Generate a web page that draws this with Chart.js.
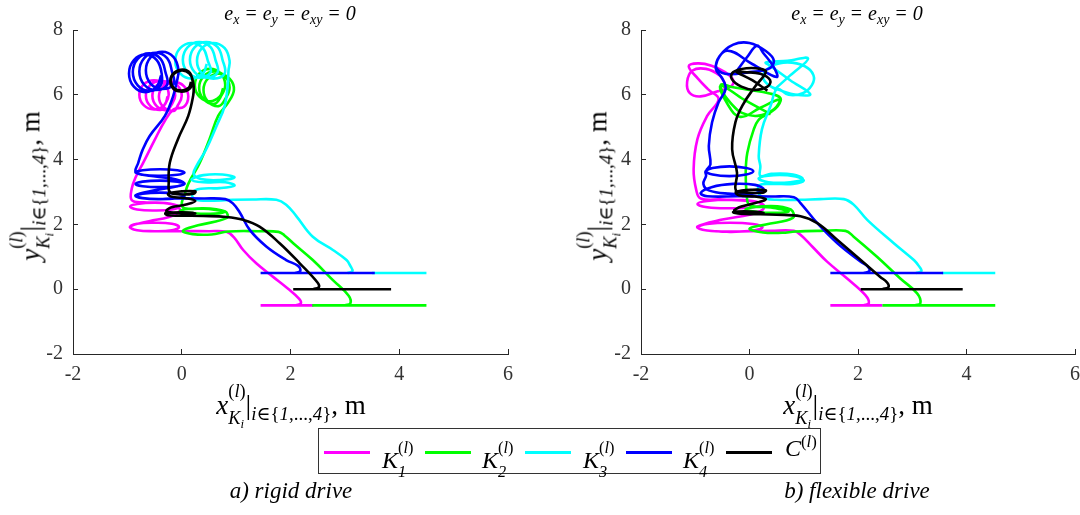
<!DOCTYPE html>
<html><head><meta charset="utf-8">
<script src="https://cdn.jsdelivr.net/npm/chart.js@4.4.1/dist/chart.umd.min.js"></script>
<style>
html,body{margin:0;padding:0;background:#fff;width:1080px;height:515px;overflow:hidden;position:relative;font-family:"Liberation Serif","DejaVu Serif",serif;color:#000;}
.cv{position:absolute;top:0;}
.t{position:absolute;white-space:nowrap;line-height:1;}
i{font-style:italic;}
sub{font-size:0.7em;vertical-align:-0.3em;line-height:0;}
sup{font-size:0.7em;vertical-align:0.55em;line-height:0;}
.ss{display:inline-block;vertical-align:-0.5em;font-size:0.68em;line-height:1.45;text-align:left;}
.ss span{display:block;}
.eq{margin:0 0.3em;}
.ttl{font-size:20px;transform:translateX(-50%);top:3px;}
.xt{font-size:27px;transform:translateX(-50%);top:378px;}
.yt{font-size:27px;transform:translate(-50%,-50%) rotate(-90deg);top:186px;}
.leg{position:absolute;left:318px;top:428px;width:503px;height:46px;border:1px solid #333;box-sizing:border-box;background:#fff;}
.ln{position:absolute;top:22px;width:46px;height:3px;}
.lb{position:absolute;top:7px;font-size:24px;line-height:1;white-space:nowrap;}
.cap{font-size:23px;font-style:italic;transform:translateX(-50%);top:479px;}
</style></head><body>
<div class="cv" style="left:0px"><canvas id="c1" width="520" height="400"></canvas></div>
<div class="cv" style="left:560px"><canvas id="c2" width="530" height="400"></canvas></div>

<div class="t ttl" style="left:290px"><i>e</i><sub><i>x</i></sub><span class="eq">=</span><i>e</i><sub><i>y</i></sub><span class="eq">=</span><i>e</i><sub><i>xy</i></sub><span class="eq">=</span><i>0</i></div>
<div class="t ttl" style="left:857px"><i>e</i><sub><i>x</i></sub><span class="eq">=</span><i>e</i><sub><i>y</i></sub><span class="eq">=</span><i>e</i><sub><i>xy</i></sub><span class="eq">=</span><i>0</i></div>

<div class="t xt" style="left:291px"><i>x</i><span class="ss"><span>(<i>l</i>)</span><span><i>K</i><sub><i>i</i></sub></span></span><span style="font-size:1.05em">|</span><sub><i>i</i>∈{<i>1</i>,...,<i>4</i>}</sub>, m</div>
<div class="t xt" style="left:858px"><i>x</i><span class="ss"><span>(<i>l</i>)</span><span><i>K</i><sub><i>i</i></sub></span></span><span style="font-size:1.05em">|</span><sub><i>i</i>∈{<i>1</i>,...,<i>4</i>}</sub>, m</div>

<div class="t yt" style="left:30px"><i>y</i><span class="ss"><span>(<i>l</i>)</span><span><i>K</i><sub><i>i</i></sub></span></span><span style="font-size:1.05em">|</span><sub><i>i</i>∈{<i>1</i>,...,<i>4</i>}</sub>, m</div>
<div class="t yt" style="left:597px"><i>y</i><span class="ss"><span>(<i>l</i>)</span><span><i>K</i><sub><i>i</i></sub></span></span><span style="font-size:1.05em">|</span><sub><i>i</i>∈{<i>1</i>,...,<i>4</i>}</sub>, m</div>

<div class="leg" id="leg"></div>

<div class="t cap" style="left:291px">a) rigid drive</div>
<div class="t cap" style="left:857px">b) flexible drive</div>

<script>
const xTicks = [-2, 0, 2, 4, 6];
const yTicks = [-2, 0, 2, 4, 6, 8];
const seriesNames = ['K1', 'K2', 'K3', 'K4', 'C'];
const seriesColors = ['#ff00ff', '#00ff00', '#00ffff', '#0000ff', '#000000'];

const rigidK1 = [
[1.45,-0.5],[2.42,-0.5],null,
[2.1,-0.5],[2.19,-0.44],[2.16,-0.3],[1.95,0.02],[1.68,0.38],[1.37,0.8],[1.13,1.21],[0.96,1.6],[0.82,1.77],[0.5,1.79],[0.0,1.79],
[-0.5,1.79],[-0.82,1.82],[-0.95,1.92],[-0.82,2.02],[-0.5,2.05],[-0.18,2.02],[-0.05,1.92],[-0.18,1.82],[-0.5,1.79],[-0.82,1.82],[-0.95,1.93],
[-0.6,2.1],[-0.25,2.22],[-0.05,2.38],
[-0.05,2.52],[-0.2,2.63],[-0.5,2.67],[-0.82,2.63],[-0.95,2.55],[-0.82,2.46],[-0.5,2.43],[-0.18,2.46],[-0.05,2.55],[-0.3,2.66],[-0.7,2.68],[-0.92,2.75],
[-0.92,3.1],[-0.85,3.45],[-0.71,3.9],[-0.5,4.6],[-0.31,5.2],[-0.15,5.55],
[0.04,5.63],[0.12,5.95],[0.04,6.27],[-0.15,6.4],[-0.34,6.27],[-0.42,5.95],[-0.34,5.63],[-0.15,5.5],
[-0.08,5.65],[0.0,5.97],[-0.08,6.29],[-0.27,6.42],[-0.46,6.29],[-0.54,5.97],[-0.46,5.65],[-0.27,5.52],
[-0.2,5.66],[-0.12,5.98],[-0.2,6.3],[-0.39,6.43],[-0.58,6.3],[-0.66,5.98],[-0.58,5.66],[-0.39,5.53],
[-0.32,5.68],[-0.24,6.0],[-0.32,6.32],[-0.51,6.45],[-0.7,6.32],[-0.78,6.0],[-0.7,5.68],[-0.51,5.55],[-0.32,5.68],[-0.26,5.95]
];
const rigidK2 = [
[2.4,-0.5],[4.5,-0.5],null,
[3.0,-0.5],[3.1,-0.44],[3.07,-0.2],[2.78,0.28],[2.41,0.9],[2.05,1.42],[1.89,1.66],[1.78,1.77],[1.4,1.79],[0.85,1.78],
[0.55,1.69],[0.2,1.7],[0.02,1.8],[0.3,1.97],[0.83,2.2],
[0.8,2.4],[0.4,2.5],[-0.03,2.42],[0.35,2.33],[0.78,2.38],[0.5,2.48],[0.05,2.5],
[0.0,2.65],[0.05,2.9],[0.12,3.25],[0.33,3.9],[0.51,4.63],[0.67,5.35],[0.85,5.75],
[0.96,6.15],[0.88,6.5],[0.68,6.65],[0.48,6.5],[0.4,6.15],[0.48,5.8],[0.68,5.65],
[0.8,5.87],[0.88,6.22],[0.8,6.57],[0.6,6.72],[0.4,6.57],[0.32,6.22],[0.4,5.87],[0.6,5.72],
[0.72,5.95],[0.8,6.3],[0.72,6.65],[0.52,6.8],[0.32,6.65],[0.24,6.3],[0.32,5.95],[0.52,5.8],[0.7,5.95],[0.76,6.2]
];
const rigidK3 = [
[3.5,0.5],[4.5,0.5],null,
[3.05,0.5],[3.14,0.56],[3.1,0.72],[3.03,0.9],[2.78,1.21],[2.41,1.62],[2.11,2.25],[1.92,2.61],[1.74,2.76],[1.3,2.77],[0.94,2.76],[0.4,2.73],
[0.22,2.8],[0.2,3.0],[0.35,3.1],[0.7,3.12],[0.97,3.2],[0.8,3.3],[0.4,3.3],[0.18,3.38],[0.4,3.52],[0.75,3.54],[0.97,3.45],[0.7,3.37],[0.35,3.4],[0.22,3.55],
[0.27,3.8],[0.45,4.32],[0.64,5.04],[0.79,5.66],[0.85,6.39],[0.86,6.75],
[0.88,7.05],[0.79,7.44],[0.58,7.6],[0.37,7.44],[0.28,7.05],[0.37,6.66],[0.58,6.5],[0.79,6.66],
[0.75,7.08],[0.66,7.47],[0.45,7.63],[0.24,7.47],[0.15,7.08],[0.24,6.69],[0.45,6.53],[0.66,6.69],
[0.62,7.08],[0.53,7.47],[0.32,7.63],[0.11,7.47],[0.02,7.08],[0.11,6.69],[0.32,6.53],[0.53,6.69],
[0.48,7.05],[0.39,7.44],[0.18,7.6],[-0.03,7.44],[-0.12,7.05],[-0.03,6.66],[0.18,6.5],[0.39,6.66],[0.46,6.95]
];
const rigidK4 = [
[1.45,0.5],[3.55,0.5],null,
[2.08,0.5],[2.18,0.56],[2.14,0.72],[1.92,0.9],[1.56,1.31],[1.25,1.83],[1.07,2.36],[0.94,2.65],[0.8,2.78],[0.4,2.8],[-0.2,2.8],
[-0.4,2.78],[-0.72,2.81],[-0.85,2.88],[-0.72,2.95],[-0.4,2.98],[-0.08,2.95],[0.05,2.88],[-0.08,2.81],[-0.4,2.78],[-0.72,2.81],[-0.85,2.9],
[-0.5,3.05],[-0.1,3.17],[0.05,3.25],[-0.08,3.32],[-0.4,3.35],[-0.72,3.32],[-0.85,3.25],[-0.72,3.18],[-0.4,3.15],[-0.08,3.18],[0.05,3.27],
[-0.2,3.42],[-0.6,3.5],[-0.85,3.6],[-0.72,3.67],[-0.4,3.7],[-0.08,3.67],[0.05,3.6],[-0.08,3.53],[-0.4,3.5],[-0.72,3.53],[-0.85,3.62],
[-0.8,3.9],[-0.72,4.3],[-0.59,4.73],[-0.31,5.35],[-0.16,5.95],[-0.1,6.35],
[-0.06,6.75],[-0.15,7.16],[-0.36,7.33],[-0.57,7.16],[-0.66,6.75],[-0.57,6.34],[-0.36,6.18],[-0.15,6.34],
[-0.18,6.72],[-0.27,7.13],[-0.48,7.3],[-0.69,7.13],[-0.78,6.72],[-0.69,6.31],[-0.48,6.15],[-0.27,6.31],
[-0.3,6.7],[-0.39,7.11],[-0.6,7.28],[-0.81,7.11],[-0.9,6.7],[-0.81,6.29],[-0.6,6.12],[-0.39,6.29],
[-0.37,6.66],[-0.46,7.07],[-0.67,7.24],[-0.88,7.07],[-0.97,6.66],[-0.88,6.25],[-0.67,6.08],[-0.46,6.25],[-0.38,6.6]
];
const rigidC = [
[2.05,0],[3.85,0],null,
[2.42,0],[2.52,0.06],[2.5,0.2],[2.17,0.8],[1.8,1.42],[1.43,1.93],[1.13,2.14],[0.82,2.23],[0.4,2.26],[0.02,2.27],[-0.25,2.28],
[-0.3,2.34],[0.0,2.37],[0.25,2.34],[0.0,2.35],[-0.28,2.4],[-0.2,2.52],[0.1,2.62],[0.25,2.72],[0.1,2.8],[-0.2,2.86],[-0.25,2.95],[0.0,3.02],[0.25,3.02],[0.22,2.95],[-0.05,2.93],[-0.22,3.0],
[-0.24,3.28],[-0.22,3.9],[-0.07,4.63],[0.12,5.35],[0.21,5.97],[0.22,6.25],
[0.2,6.45],[0.15,6.68],[0.02,6.78],[-0.14,6.68],[-0.21,6.45],[-0.16,6.2],[-0.02,6.1],[0.14,6.18],[0.2,6.42],[0.14,6.66],[0.0,6.75],[-0.15,6.64],[-0.2,6.42],[-0.14,6.2],[0.0,6.13],[0.13,6.22],[0.17,6.4]
];

const flexK1 = [
[1.49,-0.5],[2.45,-0.5],null,
[2.1,-0.5],[2.2,-0.43],[2.14,-0.19],[1.8,0.33],[1.43,0.85],[1.16,1.31],[0.94,1.68],[0.82,1.8],[0.4,1.8],[0.0,1.79],
[-0.36,1.77],[-0.78,1.81],[-0.96,1.91],[-0.78,2.01],[-0.36,2.05],[0.06,2.01],[0.24,1.91],[0.06,1.81],[-0.36,1.78],[-0.78,1.81],[-0.96,1.93],
[-0.5,2.15],[0.0,2.3],[0.24,2.45],
[0.26,2.6],[0.06,2.72],[-0.36,2.76],[-0.78,2.72],[-0.96,2.63],[-0.78,2.53],[-0.36,2.5],[0.06,2.53],[0.24,2.62],[0.0,2.72],[-0.5,2.77],[-0.9,2.8],
[-0.98,3.05],[-1.03,3.7],[-0.96,4.63],[-0.78,5.35],[-0.57,5.87],
[-0.75,6.15],[-0.95,6.5],[-1.12,6.88],[-0.95,6.97],[-0.7,6.9],[-0.45,6.7],[-0.3,6.45],[-0.35,6.25],[-0.6,6.1],[-0.9,5.95],[-1.1,6.05],[-1.15,6.4],[-1.05,6.75],[-0.8,6.8],[-0.55,6.6],[-0.45,6.35]
];
const flexK2 = [
[2.45,-0.5],[4.53,-0.5],null,
[3.05,-0.5],[3.15,-0.43],[3.09,-0.13],[2.78,0.33],[2.35,1.0],[1.92,1.62],[1.77,1.8],[1.3,1.8],[0.85,1.78],
[0.6,1.74],[0.25,1.75],[0.0,1.87],[0.3,2.0],[0.8,2.2],[0.76,2.46],[0.4,2.57],[-0.07,2.47],[0.3,2.36],[0.72,2.4],[0.4,2.52],[0.0,2.6],
[-0.05,2.9],[-0.07,3.6],[-0.04,4.21],[0.08,4.94],[0.18,5.25],[0.35,5.42],[0.52,5.65],[0.57,5.9],[0.35,6.05],[0.0,6.15],[-0.35,6.25],[-0.52,6.32],
[-0.5,6.1],[-0.35,5.75],[-0.15,5.45],[0.15,5.35],[0.45,5.55],[0.55,5.85],[0.2,5.6],[-0.17,5.32],[-0.4,5.7],[-0.53,6.28],[-0.1,5.85],[0.39,5.4]
];
const flexK3 = [
[3.55,0.5],[4.53,0.5],null,
[3.07,0.5],[3.17,0.56],[3.12,0.72],[3.03,0.9],[2.66,1.42],[2.17,2.14],[1.92,2.61],[1.74,2.78],[1.3,2.78],[0.94,2.76],[0.5,2.76],[0.3,2.8],
[0.17,2.95],[0.18,3.2],[0.4,3.25],[0.8,3.25],[1.0,3.35],[0.85,3.48],[0.45,3.52],[0.17,3.42],[0.35,3.3],[0.75,3.3],[0.98,3.4],[0.8,3.54],[0.4,3.56],[0.2,3.5],
[0.2,3.8],[0.17,4.11],[0.23,4.94],[0.39,5.66],[0.51,6.18],
[0.72,6.0],[0.98,6.05],[1.15,6.3],[1.18,6.6],[1.02,6.88],[0.7,7.0],[0.4,6.88],[0.25,6.6],[0.35,6.3],[0.6,6.12],[0.85,6.0],[1.12,6.02],
[0.75,6.45],[0.38,6.9],[0.3,7.0],[0.7,7.05],[1.08,7.12],[0.75,6.6],[0.45,6.15]
];
const flexK4 = [
[1.49,0.5],[3.57,0.5],null,
[2.1,0.5],[2.21,0.56],[2.18,0.7],[2.05,0.85],[1.62,1.42],[1.25,2.04],[0.94,2.66],[0.82,2.84],[0.4,2.86],[-0.2,2.87],[-0.78,2.87],
[-0.9,2.97],[-0.7,3.15],[-0.3,3.25],[0.1,3.22],[0.26,3.08],[0.05,2.95],[-0.4,2.95],[-0.75,3.05],[-0.85,3.25],[-0.8,3.5],
[-0.81,3.64],[-0.68,3.74],[-0.37,3.79],[-0.06,3.74],[0.07,3.64],[-0.06,3.54],[-0.37,3.49],[-0.68,3.54],[-0.8,3.65],
[-0.72,3.85],[-0.75,4.42],[-0.69,5.15],[-0.57,5.77],[-0.44,6.18],
[-0.5,6.5],[-0.62,6.8],[-0.55,7.2],[-0.3,7.55],[0.0,7.6],[0.3,7.35],[0.45,7.05],[0.35,6.8],[0.0,6.7],[-0.45,6.65],[-0.62,6.9],
[-0.41,7.36],[0.05,6.95],[0.5,6.55],[0.45,6.85],[0.25,7.3],[0.14,7.52],[-0.05,7.15],[-0.23,6.75]
];
const flexC = [
[2.05,0],[3.93,0],null,
[2.45,0],[2.56,0.06],[2.54,0.2],[2.41,0.38],[2.05,0.9],[1.62,1.52],[1.25,2.04],[0.94,2.25],[0.5,2.3],[-0.17,2.33],
[-0.3,2.38],[0.0,2.4],[0.26,2.36],[0.0,2.37],[-0.28,2.42],[-0.15,2.55],[0.15,2.68],[0.3,2.78],[0.1,2.86],[-0.2,2.9],[-0.25,3.0],[0.05,3.07],[0.3,3.05],[0.25,2.98],[-0.05,2.98],[-0.25,3.05],
[-0.23,3.59],[-0.32,4.32],[-0.26,5.15],[-0.12,5.7],[0.1,6.25],[0.3,6.7],
[0.2,6.8],[-0.05,6.82],[-0.3,6.7],[-0.33,6.5],[-0.15,6.25],[0.1,6.15],[0.33,6.25],[0.38,6.45],[0.2,6.65],[-0.1,6.7],[-0.25,6.72],[0.05,6.45],[0.33,6.13]
];

const rigidSeries = [rigidK1, rigidK2, rigidK3, rigidK4, rigidC];
const flexSeries = [flexK1, flexK2, flexK3, flexK4, flexC];

function toXY(arr){ return arr.map(p => p ? {x:p[0], y:p[1]} : {x:NaN, y:NaN}); }

const FONT = {family:'"Liberation Serif", serif', size:20};
function makeChart(id, series, axisW, padR){
  const datasets = series.map((s,i) => ({
    label: seriesNames[i],
    data: toXY(s),
    showLine: true,
    borderColor: seriesColors[i],
    borderWidth: 2.6,
    pointRadius: 0,
    tension: 0.4,
    fill: false,
    order: 5 - i
  }));
  return new Chart(document.getElementById(id), {
    type: 'scatter',
    data: {datasets},
    options: {
      responsive: false, animation: false, events: [],
      layout: {padding: {top: 30, right: padR, left: 0, bottom: 0}},
      plugins: {legend: {display: false}, tooltip: {enabled: false}},
      scales: {
        x: {
          type: 'linear', min: -2, max: 6,
          afterBuildTicks: s => { s.ticks = xTicks.map(v => ({value: v})); },
          afterFit: s => { s.height = 46; s.paddingLeft = 0; s.paddingRight = 0; },
          grid: {drawOnChartArea: false, tickLength: -5, color: '#262626', lineWidth: 1},
          border: {display: true, color: '#262626', width: 1},
          ticks: {font: FONT, color: '#333', padding: 14, maxRotation: 0, autoSkip: false, callback: v => String(v)}
        },
        y: {
          type: 'linear', min: -2, max: 8,
          afterBuildTicks: s => { s.ticks = yTicks.map(v => ({value: v})); },
          afterFit: s => { s.width = axisW; s.paddingTop = 0; s.paddingBottom = 0; },
          grid: {drawOnChartArea: false, tickLength: -5, color: '#262626', lineWidth: 1},
          border: {display: true, color: '#262626', width: 1},
          ticks: {font: FONT, color: '#333', padding: 15, autoSkip: false, callback: v => String(v)}
        }
      }
    }
  });
}
makeChart('c1', rigidSeries, 73, 12);
makeChart('c2', flexSeries, 81, 15);

// legend
const leg = document.getElementById('leg');
const lineX = [5, 106, 206, 307, 407];
const labX = [63, 163, 264, 364, 466];
const labHTML = [
  '<i>K</i><span class="ss"><span>(<i>l</i>)</span><span><i>1</i></span></span>',
  '<i>K</i><span class="ss"><span>(<i>l</i>)</span><span><i>2</i></span></span>',
  '<i>K</i><span class="ss"><span>(<i>l</i>)</span><span><i>3</i></span></span>',
  '<i>K</i><span class="ss"><span>(<i>l</i>)</span><span><i>4</i></span></span>',
  '<i>C</i><sup>(<i>l</i>)</sup>'
];
seriesNames.forEach((n,i) => {
  const l = document.createElement('div');
  l.className = 'ln'; l.style.left = lineX[i] + 'px'; l.style.background = seriesColors[i];
  leg.appendChild(l);
  const t = document.createElement('div');
  t.className = 'lb'; t.style.left = labX[i] + 'px'; t.innerHTML = labHTML[i];
  leg.appendChild(t);
});
</script>
</body></html>
